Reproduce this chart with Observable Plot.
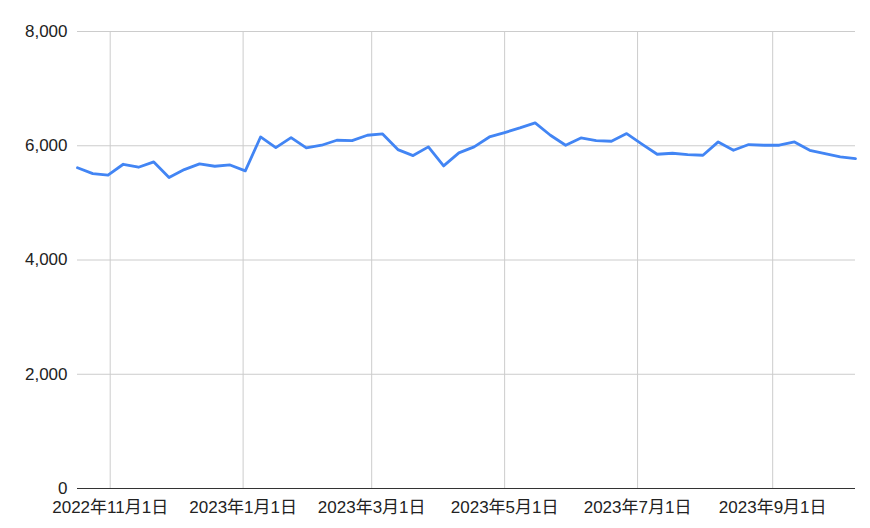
<!DOCTYPE html>
<html>
<head>
<meta charset="utf-8">
<script src="https://cdn.jsdelivr.net/npm/d3@7"></script>
<script src="https://cdn.jsdelivr.net/npm/@observablehq/plot@0.6"></script>
<style>
  html, body { margin: 0; padding: 0; background: #fff; }
  #chart svg { display: block; font-family: "Liberation Sans", Arial, "Noto Sans CJK JP", sans-serif; }
</style>
</head>
<body>
<div id="chart"></div>
<script>
const startDate = "2022-10-17";
const values = [
  5615, 5513, 5484, 5676, 5624, 5717, 5443, 5583, 5682, 5641,
  5664, 5560, 6154, 5968, 6143, 5962, 6009, 6096, 6090, 6184,
  6207, 5933, 5828, 5980, 5647, 5875, 5980, 6154, 6231, 6312,
  6400, 6184, 6009, 6137, 6090, 6079, 6213, 6030, 5851, 5869,
  5846, 5834, 6067, 5921, 6021, 6009, 6009, 6067, 5921, 5863,
  5804, 5776
];
const xTickDates = ["2022-11-01", "2023-01-01", "2023-03-01", "2023-05-01", "2023-07-01", "2023-09-01"];
const yTicks = [0, 2000, 4000, 6000, 8000];

const start = new Date(startDate + "T00:00:00Z");
const data = values.map((v, i) => ({date: d3.utcDay.offset(start, i * 7), value: v}));
const xTicks = xTickDates.map(s => new Date(s + "T00:00:00Z"));
const fmtDate = d => `${d.getUTCFullYear()}年${d.getUTCMonth() + 1}月${d.getUTCDate()}日`;

const chart = Plot.plot({
  width: 870,
  height: 528,
  marginLeft: 77,
  marginRight: 15,
  marginTop: 31,
  marginBottom: 40,
  style: {fontSize: "17px", color: "#222", background: "#fff"},
  x: {type: "utc", domain: [data[0].date, data[data.length - 1].date]},
  y: {domain: [0, 8000]},
  marks: [
    Plot.gridY(yTicks, {stroke: "#cccccc", strokeOpacity: 1, strokeWidth: 1}),
    Plot.gridX(xTicks, {stroke: "#cccccc", strokeOpacity: 1, strokeWidth: 1}),
    Plot.ruleY([0], {stroke: "#333", strokeWidth: 1}),
    Plot.axisY(yTicks, {tickSize: 0, tickPadding: 10, tickFormat: d3.format(","), label: null, fontSize: 17, fill: "#222"}),
    Plot.axisX(xTicks, {tickSize: 0, tickPadding: 12, tickFormat: fmtDate, label: null, fontSize: 17, fill: "#222"}),
    Plot.line(data, {x: "date", y: "value", stroke: "#4285f4", strokeWidth: 2.8, strokeLinejoin: "round"})
  ]
});
document.getElementById("chart").append(chart);
</script>
</body>
</html>
